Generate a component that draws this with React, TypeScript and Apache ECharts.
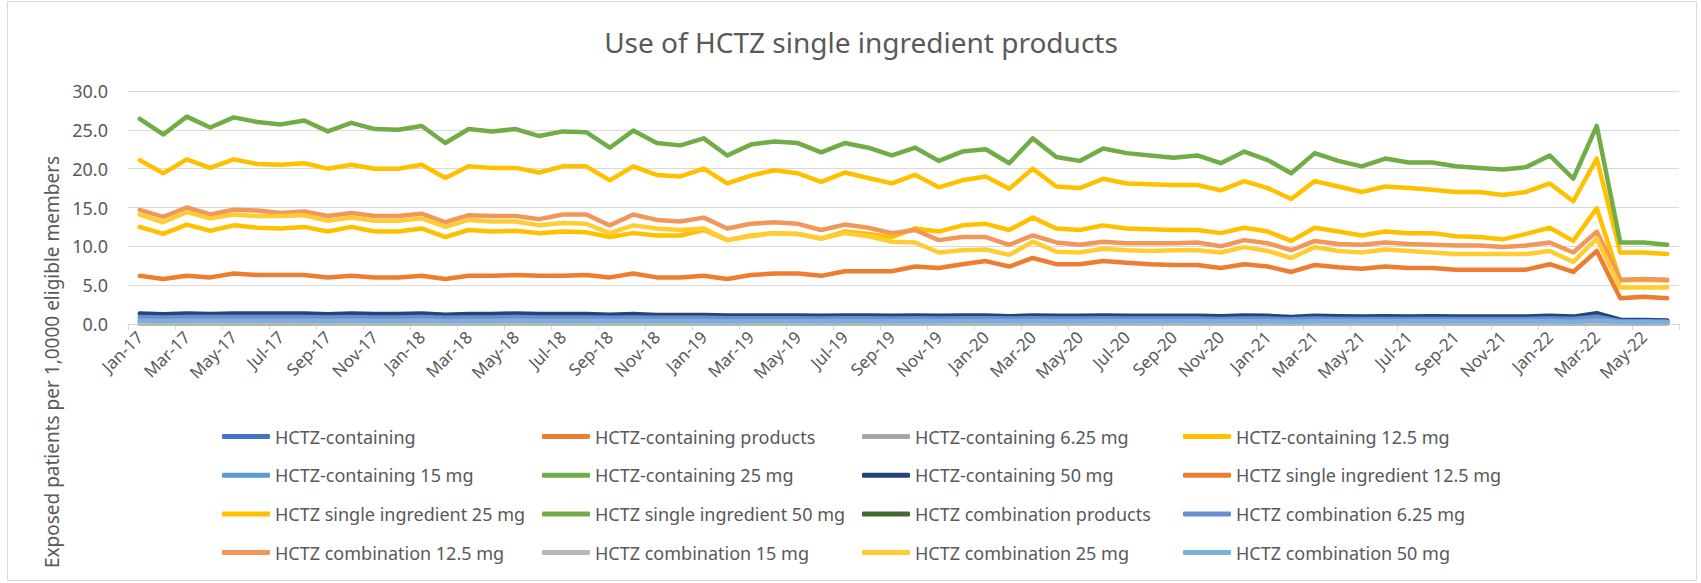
import React, { useEffect, useRef } from "react";
import * as echarts from "echarts";

const months = ["Jan","Feb","Mar","Apr","May","Jun","Jul","Aug","Sep","Oct","Nov","Dec"];
const categories: string[] = [];
for (let y = 17; y <= 22; y++) {
  for (let m = 0; m < 12; m++) {
    if (y === 22 && m > 5) break;
    categories.push(`${months[m]}-${y}`);
  }
}

const seriesNames = [
  "HCTZ-containing",
  "HCTZ-containing products",
  "HCTZ-containing 6.25 mg",
  "HCTZ-containing 12.5 mg",
  "HCTZ-containing 15 mg",
  "HCTZ-containing 25 mg",
  "HCTZ-containing 50 mg",
  "HCTZ single ingredient 12.5 mg",
  "HCTZ single ingredient 25 mg",
  "HCTZ single ingredient 50 mg",
  "HCTZ combination products",
  "HCTZ combination 6.25 mg",
  "HCTZ combination 12.5 mg",
  "HCTZ combination 15 mg",
  "HCTZ combination 25 mg",
  "HCTZ combination 50 mg",
];

const seriesColors = [
  "#4472C4", "#ED7D31", "#A5A5A5", "#FFC000",
  "#5B9BD5", "#70AD47", "#264478", "#ED7D31",
  "#FFC000", "#70AD47", "#43682B", "#698ED0",
  "#F1975A", "#B7B7B7", "#FFCD33", "#7CAFDD",
];

const hctzContaining: number[] = [];
const hctzContainingProducts: number[] = [];
const containing625 = [0.1,0.1,0.1,0.1,0.1,0.1,0.1,0.1,0.1,0.1,0.1,0.1,0.1,0.1,0.1,0.1,0.1,0.1,0.1,0.1,0.1,0.1,0.1,0.1,0.1,0.1,0.1,0.1,0.1,0.1,0.1,0.1,0.1,0.1,0.1,0.1,0.1,0.1,0.1,0.1,0.1,0.1,0.1,0.1,0.1,0.1,0.1,0.1,0.1,0.1,0.1,0.1,0.1,0.1,0.1,0.1,0.1,0.1,0.1,0.1,0.1,0.1,0.1,0.05,0.05,0.05];
const containing125 = [21.1,19.4,21.2,20.1,21.2,20.6,20.5,20.7,20.0,20.5,20.0,20.0,20.5,18.8,20.3,20.1,20.1,19.5,20.3,20.3,18.5,20.3,19.2,19.0,20.0,18.1,19.1,19.8,19.4,18.3,19.5,18.8,18.1,19.2,17.6,18.5,19.0,17.4,20.0,17.7,17.5,18.7,18.1,18.0,17.9,17.9,17.2,18.4,17.5,16.1,18.4,17.7,17.0,17.7,17.5,17.3,17.0,17.0,16.6,17.0,18.1,15.8,21.3,9.2,9.2,9.0];
const containing15 = [0.6,0.55,0.6,0.6,0.6,0.6,0.6,0.6,0.55,0.6,0.55,0.55,0.6,0.5,0.55,0.55,0.55,0.55,0.55,0.55,0.5,0.55,0.5,0.5,0.5,0.45,0.5,0.5,0.5,0.45,0.5,0.5,0.45,0.5,0.45,0.45,0.45,0.4,0.45,0.45,0.45,0.45,0.45,0.45,0.45,0.45,0.4,0.45,0.45,0.4,0.45,0.4,0.4,0.4,0.4,0.4,0.4,0.4,0.4,0.4,0.45,0.4,0.55,0.2,0.2,0.2];
const containing25 = [26.4,24.4,26.7,25.3,26.6,26.0,25.7,26.2,24.8,25.9,25.1,25.0,25.5,23.3,25.1,24.8,25.1,24.2,24.8,24.7,22.7,24.9,23.3,23.0,23.9,21.7,23.1,23.5,23.3,22.1,23.3,22.7,21.7,22.7,21.0,22.2,22.5,20.7,23.9,21.5,21.0,22.6,22.0,21.7,21.4,21.7,20.7,22.2,21.1,19.4,22.0,21.0,20.3,21.3,20.8,20.8,20.3,20.1,19.9,20.2,21.7,18.7,25.5,10.5,10.5,10.2];
const containing50 = [1.35,1.25,1.35,1.3,1.35,1.35,1.35,1.35,1.25,1.35,1.3,1.3,1.35,1.2,1.3,1.3,1.35,1.3,1.3,1.3,1.2,1.3,1.15,1.15,1.15,1.1,1.1,1.1,1.1,1.05,1.1,1.1,1.05,1.1,1.05,1.1,1.1,1.0,1.1,1.05,1.05,1.1,1.05,1.05,1.05,1.05,1.0,1.1,1.05,0.9,1.05,1.0,0.95,1.0,0.95,1.0,0.95,0.95,0.95,0.95,1.05,0.95,1.4,0.55,0.5,0.45];
const single125 = [6.2,5.8,6.2,6.0,6.5,6.3,6.3,6.3,6.0,6.2,6.0,6.0,6.2,5.8,6.2,6.2,6.3,6.2,6.2,6.3,6.0,6.5,6.0,6.0,6.2,5.8,6.3,6.5,6.5,6.2,6.8,6.8,6.8,7.4,7.2,7.7,8.1,7.4,8.5,7.7,7.7,8.1,7.9,7.7,7.6,7.6,7.2,7.7,7.4,6.7,7.6,7.3,7.1,7.4,7.2,7.2,7.0,7.0,7.0,7.0,7.7,6.7,9.4,3.3,3.5,3.3];
const single25 = [12.5,11.6,12.8,12.0,12.7,12.4,12.3,12.5,11.9,12.5,11.9,11.9,12.3,11.2,12.1,11.9,12.0,11.7,11.9,11.8,11.2,11.7,11.4,11.4,12.1,10.8,11.4,11.7,11.6,11.0,11.9,11.6,11.2,12.3,11.9,12.7,12.9,12.1,13.7,12.3,12.1,12.7,12.3,12.2,12.1,12.1,11.7,12.4,11.9,10.7,12.4,11.9,11.4,11.9,11.7,11.7,11.3,11.2,10.9,11.6,12.4,10.7,14.9,5.6,5.7,5.6];
const single50 = [0.3,0.3,0.3,0.3,0.3,0.3,0.3,0.3,0.3,0.3,0.3,0.3,0.3,0.3,0.3,0.3,0.3,0.3,0.3,0.3,0.3,0.3,0.3,0.3,0.3,0.3,0.3,0.3,0.3,0.3,0.3,0.3,0.3,0.3,0.3,0.3,0.3,0.3,0.3,0.3,0.3,0.3,0.3,0.3,0.3,0.3,0.3,0.3,0.3,0.3,0.3,0.3,0.3,0.3,0.3,0.3,0.3,0.3,0.3,0.3,0.3,0.3,0.3,0.15,0.15,0.15];
const combinationProducts: number[] = [];
const comb625 = [0.9,0.85,0.9,0.9,0.9,0.9,0.9,0.9,0.85,0.9,0.85,0.85,0.9,0.8,0.85,0.85,0.9,0.85,0.85,0.85,0.8,0.85,0.8,0.8,0.8,0.75,0.75,0.75,0.75,0.7,0.75,0.75,0.7,0.75,0.7,0.75,0.75,0.7,0.75,0.7,0.7,0.75,0.7,0.7,0.7,0.7,0.65,0.7,0.7,0.6,0.7,0.65,0.65,0.65,0.65,0.65,0.65,0.65,0.65,0.65,0.7,0.65,0.95,0.35,0.35,0.3];
const comb125 = [14.7,13.8,15.0,14.1,14.7,14.6,14.3,14.5,13.9,14.3,13.9,13.9,14.2,13.1,14.0,13.9,13.9,13.5,14.1,14.1,12.7,14.1,13.4,13.2,13.7,12.3,12.9,13.1,12.9,12.1,12.8,12.4,11.7,12.1,10.8,11.2,11.2,10.2,11.4,10.5,10.2,10.6,10.4,10.4,10.4,10.5,10.0,10.8,10.4,9.5,10.7,10.3,10.2,10.5,10.3,10.2,10.1,10.1,9.9,10.1,10.5,9.2,11.9,5.7,5.8,5.7];
const comb15 = [0.03,0.03,0.03,0.03,0.03,0.03,0.03,0.03,0.03,0.03,0.03,0.03,0.03,0.03,0.03,0.03,0.03,0.03,0.03,0.03,0.03,0.03,0.03,0.03,0.03,0.03,0.03,0.03,0.03,0.03,0.03,0.03,0.03,0.03,0.03,0.03,0.03,0.03,0.03,0.03,0.03,0.03,0.03,0.03,0.03,0.03,0.03,0.03,0.03,0.03,0.03,0.03,0.03,0.03,0.03,0.03,0.03,0.03,0.03,0.03,0.03,0.03,0.03,0.02,0.02,0.02];
const comb25 = [14.1,13.1,14.4,13.6,14.1,13.9,13.9,14.0,13.3,13.7,13.3,13.3,13.6,12.5,13.4,13.2,13.2,12.7,13.0,12.9,11.7,12.7,12.3,12.1,12.3,10.8,11.3,11.7,11.6,11.0,11.7,11.3,10.6,10.5,9.2,9.5,9.6,8.9,10.6,9.3,9.2,9.7,9.5,9.4,9.5,9.5,9.2,9.9,9.4,8.5,9.9,9.4,9.2,9.6,9.4,9.2,9.0,9.0,9.0,9.0,9.4,8.0,11.0,4.7,4.7,4.7];
const comb50 = [0.45,0.4,0.45,0.45,0.45,0.45,0.45,0.45,0.4,0.45,0.4,0.4,0.45,0.4,0.4,0.4,0.45,0.4,0.4,0.4,0.4,0.4,0.4,0.4,0.4,0.35,0.4,0.4,0.4,0.35,0.4,0.4,0.35,0.4,0.35,0.4,0.4,0.35,0.4,0.35,0.35,0.4,0.35,0.35,0.35,0.35,0.35,0.35,0.35,0.3,0.35,0.35,0.35,0.35,0.35,0.35,0.35,0.35,0.35,0.35,0.35,0.3,0.45,0.25,0.25,0.25];

const seriesData = [
  hctzContaining, hctzContainingProducts, containing625, containing125,
  containing15, containing25, containing50, single125,
  single25, single50, combinationProducts, comb625,
  comb125, comb15, comb25, comb50,
];

const yTicks = { min: 0, max: 30, interval: 5 };

const FONT = "'Noto Sans', sans-serif";
const TXT = "#595959";

export default function App() {
  const ref = useRef<HTMLDivElement>(null);
  useEffect(() => {
    if (!ref.current) return;
    const chart = echarts.init(ref.current, undefined, { renderer: "svg" });
    const legendCols = [222, 542, 862, 1183];
    const legends = legendCols.map((left, c) => ({
      orient: "vertical",
      left,
      top: 426,
      padding: 0,
      itemGap: 17.7,
      itemWidth: 48,
      itemHeight: 5,
      icon: "roundRect",
      textStyle: { color: TXT, fontSize: 18, fontFamily: FONT, lineHeight: 21 },
      data: [0, 1, 2, 3].map((r) => seriesNames[r * 4 + c]),
    }));
    chart.setOption({
      animation: false,
      backgroundColor: "#ffffff",
      title: {
        text: "Use of HCTZ single ingredient products",
        left: 856,
        textAlign: "center",
        top: 23,
        textStyle: { color: TXT, fontSize: 28, fontWeight: "normal", fontFamily: FONT },
      },
      legend: legends,
      grid: { left: 128, right: 22, top: 91, bottom: 259, containLabel: false },
      xAxis: {
        type: "category",
        data: categories,
        boundaryGap: true,
        axisLine: { lineStyle: { color: "#D9D9D9", width: 1 } },
        axisTick: { show: true, interval: 1, length: 6, lineStyle: { color: "#D9D9D9" } },
        axisLabel: { interval: 1, rotate: 45, color: TXT, fontSize: 17, fontFamily: FONT, margin: 10 },
      },
      yAxis: {
        type: "value",
        min: yTicks.min,
        max: yTicks.max,
        interval: yTicks.interval,
        axisLine: { show: false },
        axisTick: { show: false },
        splitLine: { lineStyle: { color: "#D9D9D9", width: 1 } },
        axisLabel: {
          color: TXT, fontSize: 18, fontFamily: FONT, margin: 20,
          formatter: (v: number) => v.toFixed(1),
        },
      },
      graphic: [
        {
          type: "rect",
          shape: { x: 7.5, y: 1.5, width: 1689, height: 579 },
          style: { fill: "none", stroke: "#D9D9D9", lineWidth: 1 },
          silent: true,
        },
        {
          type: "text",
          x: 52,
          y: 362,
          rotation: Math.PI / 2,
          style: {
            text: "Exposed patients per 1,0000 eligible members",
            fill: TXT,
            font: `19px ${FONT}`,
            align: "center",
            verticalAlign: "middle",
          },
        },
      ],
      series: seriesNames.map((name, i) => ({
        name,
        type: "line",
        data: seriesData[i],
        showSymbol: false,
        symbol: "none",
        color: seriesColors[i],
        lineStyle: { width: 4.5, color: seriesColors[i], join: "round", cap: "round" },
        z: 2,
      })),
    });
    return () => chart.dispose();
  }, []);
  return (
    <div
      ref={ref}
      style={{ position: "absolute", left: 0, top: 0, width: 1701, height: 583 }}
    />
  );
}
